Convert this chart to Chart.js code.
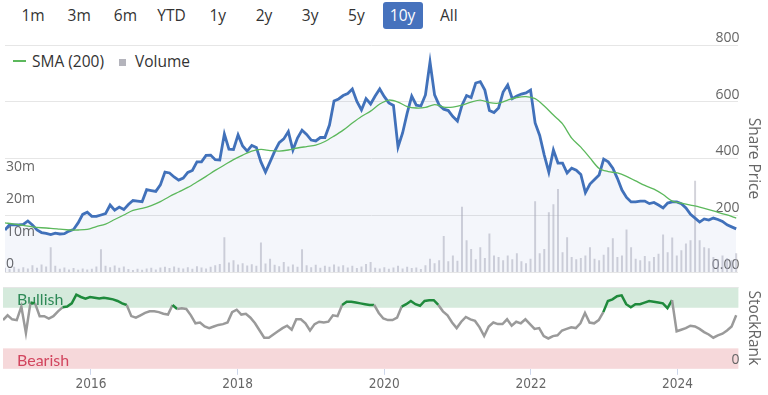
<!DOCTYPE html>
<html>
<head>
<meta charset="utf-8">
<title>Share price, SMA (200), volume and StockRank</title>
<script src="https://cdn.jsdelivr.net/npm/chart.js@4/dist/chart.umd.min.js"></script>
<style>
  body { margin: 0; width: 768px; height: 395px; overflow: hidden; background: #fff;
         font-family: "Open Sans", sans-serif; position: relative; }
  .btn { position: absolute; top: 2px; width: 40px; height: 27px; line-height: 27px;
         text-align: center; font-size: 15.5px; color: #333; border-radius: 3px; }
  .btn.on { background: #4672bd; color: #fff; }
  #legend { position: absolute; left: 0; top: 50px; height: 22px; line-height: 22px;
            font-size: 15.5px; color: #333; }
  #legend span { position: absolute; white-space: nowrap; }
  canvas { position: absolute; left: 0; }
</style>
</head>
<body>
<div id="buttons"></div>
<div id="legend">
  <span style="left:13px;top:10px;width:13px;height:2px;background:#5cb85c"></span>
  <span style="left:32px">SMA (200)</span>
  <span style="left:119px;top:9px;width:7px;height:7px;background:#b4b4bc"></span>
  <span style="left:135px">Volume</span>
</div>
<canvas id="price" width="768" height="250" style="top:30px"></canvas>
<canvas id="rank" width="768" height="115" style="top:280px"></canvas>
<script>
const ranges = ['1m', '3m', '6m', 'YTD', '1y', '2y', '3y', '5y', '10y', 'All'];
const activeRange = '10y';

// samples every 1/16 year from late 2014 (SMA every 1/8 year)
const startYear = 2014.8;
const endYear = 2024.83;
const sampleStep = 1 / 16;
const smaStep = 1 / 8;
const tickYears = [2016, 2018, 2020, 2022, 2024];
const priceTicks = [0, 200, 400, 600, 800];
const volumeTicks = [0, 10, 20, 30];

const price = [
  148, 167, 166, 166, 168, 180, 166, 148, 139, 136,
  132, 137, 134, 135, 144, 150, 173, 203, 211, 196,
  196, 201, 206, 236, 218, 229, 220, 238, 252, 250,
  248, 290, 287, 284, 307, 352, 349, 335, 324, 331,
  351, 358, 388, 388, 411, 412, 396, 395, 486, 433,
  432, 483, 444, 426, 446, 439, 388, 352, 388, 425,
  456, 469, 495, 430, 472, 500, 485, 465, 462, 474,
  474, 518, 603, 610, 622, 629, 645, 601, 571, 611,
  592, 620, 645, 618, 596, 587, 440, 490, 560, 620,
  588, 585, 624, 740, 624, 588, 574, 569, 548, 532,
  588, 622, 615, 666, 671, 641, 569, 562, 578, 634,
  659, 611, 620, 627, 631, 641, 525, 481, 412, 352,
  430, 384, 384, 349, 366, 359, 344, 280, 310, 326,
  342, 398, 388, 366, 330, 289, 263, 247, 247, 250,
  250, 241, 245, 236, 226, 243, 247, 247, 241, 226,
  203, 190, 176, 187, 183, 190, 185, 178, 166, 159,
  152
];

const sma200 = [
  173, 169, 164, 159, 156, 154, 151, 148, 148, 150,
  160, 169, 185, 201, 217, 224, 234, 248, 266, 282,
  298, 317, 337, 358, 377, 396, 412, 426, 432, 428,
  426, 430, 437, 442, 447, 460, 479, 500, 525, 548,
  567, 592, 606, 599, 583, 578, 580, 590, 581, 581,
  588, 599, 606, 597, 595, 606, 615, 618, 611, 585,
  553, 522, 472, 440, 402, 365, 354, 349, 337, 321,
  305, 292, 273, 250, 243, 236, 229, 220, 210, 201,
  190
];

// millions of shares
const volume = [
  1.2, 0.8, 1.5, 0.9, 1.4, 1.0, 2.0, 1.2, 2.2, 1.6,
  7.5, 1.8, 0.9, 1.3, 0.7, 1.1, 0.6, 1.0, 0.7, 0.9,
  1.6, 6.9, 1.8, 1.4, 1.9, 1.2, 1.6, 0.8, 0.5, 0.9,
  0.6, 1.0, 1.2, 0.7, 1.3, 1.5, 1.1, 1.6, 1.2, 1.0,
  1.4, 0.9, 1.7, 1.3, 1.0, 1.5, 2.0, 2.4, 10.6, 2.8,
  3.5, 2.2, 2.6, 1.9, 2.3, 1.8, 9.0, 2.5, 4.0, 2.1,
  1.7, 3.0, 1.6, 2.2, 1.5, 6.9, 2.0, 1.4, 2.1, 1.2,
  1.8, 1.5, 2.2, 1.6, 2.0, 1.3, 1.8, 1.1, 1.6, 2.4,
  3.0, 1.2, 1.0, 1.4, 0.9, 1.3, 1.8, 1.0, 1.5, 1.1,
  1.3, 0.8, 2.0, 4.0, 2.6, 3.5, 11.0, 3.2, 5.0, 3.4,
  20.0, 9.7, 7.0, 3.8, 7.5, 4.2, 11.8, 5.0, 4.5, 3.5,
  5.0, 3.8, 5.7, 3.2, 2.6, 4.0, 21.7, 5.7, 7.0, 18.3,
  20.8, 25.5, 6.0, 10.6, 4.5, 3.8, 4.2, 5.0, 7.5, 4.0,
  3.5, 5.2, 7.5, 10.3, 4.5, 5.0, 13.0, 7.5, 4.0, 3.5,
  4.8, 3.2, 4.5, 5.5, 11.5, 6.0, 10.5, 5.0, 6.6, 8.7,
  9.7, 28.0, 9.7, 7.5, 7.2, 4.5, 3.8, 5.0, 4.2, 3.5,
  5.7
];

const stockRank = [
  61, 67, 62, 61, 78, 45, 83, 82, 66, 66,
  63, 66, 72, 77, 78, 82, 93, 90, 88, 90,
  89, 88, 89, 88, 87, 85, 82, 80, 66, 64,
  67, 70, 72, 72, 71, 69, 68, 80, 75, 76,
  75, 67, 57, 58, 53, 51, 53, 55, 56, 58,
  71, 74, 68, 69, 64, 57, 48, 39, 39, 43,
  47, 51, 54, 49, 62, 62, 57, 48, 56, 59,
  58, 59, 67, 66, 80, 84, 84, 83, 82, 81,
  80, 80, 70, 63, 61, 61, 64, 78, 81, 85,
  81, 79, 85, 86, 86, 80, 72, 67, 58, 51,
  59, 65, 62, 60, 52, 41, 53, 58, 56, 56,
  62, 54, 59, 57, 62, 56, 50, 51, 41, 38,
  41, 42, 48, 50, 52, 51, 57, 70, 58, 57,
  61, 71, 85, 87, 91, 92, 81, 77, 81, 81,
  83, 85, 84, 83, 82, 76, 86, 47, 49, 51,
  54, 53, 50, 46, 43, 39, 42, 44, 48, 53,
  67
];
const bullishFrom = 76.5;
const bearishTo = 25.6;

const green = '#5cb85c';
const font = { family: '"Open Sans", sans-serif', size: 14 };
const titleFont = { family: '"Open Sans", sans-serif', size: 15.5 };
const narrow = '"Liberation Sans Narrow", "DejaVu Sans Condensed", sans-serif';

const buttons = document.getElementById('buttons');
ranges.forEach((r, i) => {
  const b = document.createElement('div');
  b.className = r === activeRange ? 'btn on' : 'btn';
  b.style.left = (13 + i * 46.2) + 'px';
  b.textContent = r;
  buttons.appendChild(b);
});

const atStep = (values, step) => values.map((v, i) => ({ x: startYear + i * step, y: v }));
const flatPad = s => { s.paddingTop = 0; s.paddingBottom = 0; s.paddingLeft = 0; s.paddingRight = 0; };

new Chart(document.getElementById('price'), {
  type: 'line',
  data: {
    datasets: [{
      label: 'SMA (200)',
      data: atStep(sma200, smaStep),
      yAxisID: 'price',
      borderColor: green,
      borderWidth: 1.3,
      pointRadius: 0,
      tension: 0.3,
      order: 0
    }, {
      label: 'Share Price',
      data: atStep(price, sampleStep),
      yAxisID: 'price',
      borderColor: '#4171ba',
      borderWidth: 2.8,
      pointRadius: 0,
      fill: 'start',
      backgroundColor: 'rgba(70,110,190,0.06)',
      order: 1
    }, {
      type: 'bar',
      label: 'Volume',
      data: atStep(volume, sampleStep),
      yAxisID: 'vol',
      backgroundColor: 'rgba(175,175,188,0.55)',
      barThickness: 1.3,
      order: 2
    }]
  },
  options: {
    responsive: false,
    animation: false,
    events: [],
    layout: { padding: { top: 15, bottom: 8, left: 3, right: 1 } },
    plugins: { legend: { display: false }, tooltip: { enabled: false } },
    scales: {
      x: { type: 'linear', min: startYear, max: endYear, display: false, offset: false },
      price: {
        position: 'right',
        min: 0,
        max: 800,
        afterBuildTicks: s => { s.ticks = priceTicks.map(v => ({ value: v })); },
        afterFit: flatPad,
        grid: { color: '#e6e6e6', drawTicks: false },
        border: { display: false },
        ticks: { mirror: true, padding: 1, labelOffset: -7, color: '#666', font: font,
                 callback: v => v === 0 ? '0.00' : String(v) },
        title: { display: true, text: 'Share Price', color: '#666', font: titleFont }
      },
      vol: {
        position: 'left',
        min: 0,
        max: 70,
        afterBuildTicks: s => { s.ticks = volumeTicks.map(v => ({ value: v })); },
        afterFit: flatPad,
        grid: { display: false, drawTicks: false },
        border: { display: false },
        ticks: { mirror: true, padding: 1, labelOffset: -8, color: '#666', font: font,
                 callback: v => v === 0 ? '0' : v + 'm' }
      }
    }
  }
});

// bands go under the axes, so the "0" tick label stays visible
const bandPlugin = {
  id: 'bands',
  beforeDraw(chart) {
    const { ctx, chartArea: a, scales: { y } } = chart;
    const bullBottom = y.getPixelForValue(bullishFrom);
    const bearTop = y.getPixelForValue(bearishTo);
    const bearBottom = y.getPixelForValue(0);
    ctx.save();
    ctx.fillStyle = '#d5eadc';
    ctx.fillRect(a.left, a.top, a.width, bullBottom - a.top);
    ctx.fillStyle = '#f6d8da';
    ctx.fillRect(a.left, bearTop, a.width, bearBottom - bearTop);
    ctx.strokeStyle = '#e6e6e6';
    ctx.lineWidth = 1;
    ctx.beginPath();
    ctx.moveTo(a.left, a.top + 0.5);
    ctx.lineTo(a.right, a.top + 0.5);
    ctx.stroke();
    ctx.font = '16px Lato';
    ctx.textBaseline = 'middle';
    ctx.fillStyle = '#2f8a57';
    ctx.fillText('Bullish', a.left + 14, bullBottom - 8);
    ctx.fillStyle = '#d2455e';
    ctx.fillText('Bearish', a.left + 14, bearTop + 12);
    ctx.restore();
  }
};

new Chart(document.getElementById('rank'), {
  type: 'line',
  data: {
    datasets: [{
      label: 'StockRank',
      data: atStep(stockRank, sampleStep),
      borderColor: '#9a9a9a',
      borderWidth: 2.5,
      pointRadius: 0,
      segment: {
        borderColor: c => (c.p0.parsed.y + c.p1.parsed.y) / 2 >= bullishFrom ? '#1f8a3c' : '#9a9a9a'
      }
    }]
  },
  options: {
    responsive: false,
    animation: false,
    events: [],
    layout: { padding: { top: 7, bottom: 0, left: 3, right: 1 } },
    plugins: { legend: { display: false }, tooltip: { enabled: false } },
    scales: {
      x: {
        type: 'linear',
        min: startYear,
        max: endYear,
        offset: false,
        afterBuildTicks: s => { s.ticks = tickYears.map(v => ({ value: v })); },
        afterFit: flatPad,
        grid: { drawOnChartArea: false, tickLength: 6, color: '#ccd6eb' },
        border: { display: false },
        ticks: { color: '#666', padding: 2, maxRotation: 0, font: { family: narrow, size: 13.5 },
                 callback: v => String(v) }
      },
      y: {
        position: 'right',
        min: 0,
        max: 102.5,
        afterBuildTicks: s => { s.ticks = [{ value: 0 }]; },
        afterFit: flatPad,
        grid: { display: false, drawTicks: false },
        border: { display: false },
        ticks: { mirror: true, padding: 1, labelOffset: -9, color: '#666', font: font },
        title: { display: true, text: 'StockRank', color: '#666', font: titleFont }
      }
    }
  },
  plugins: [bandPlugin]
});
</script>
</body>
</html>
